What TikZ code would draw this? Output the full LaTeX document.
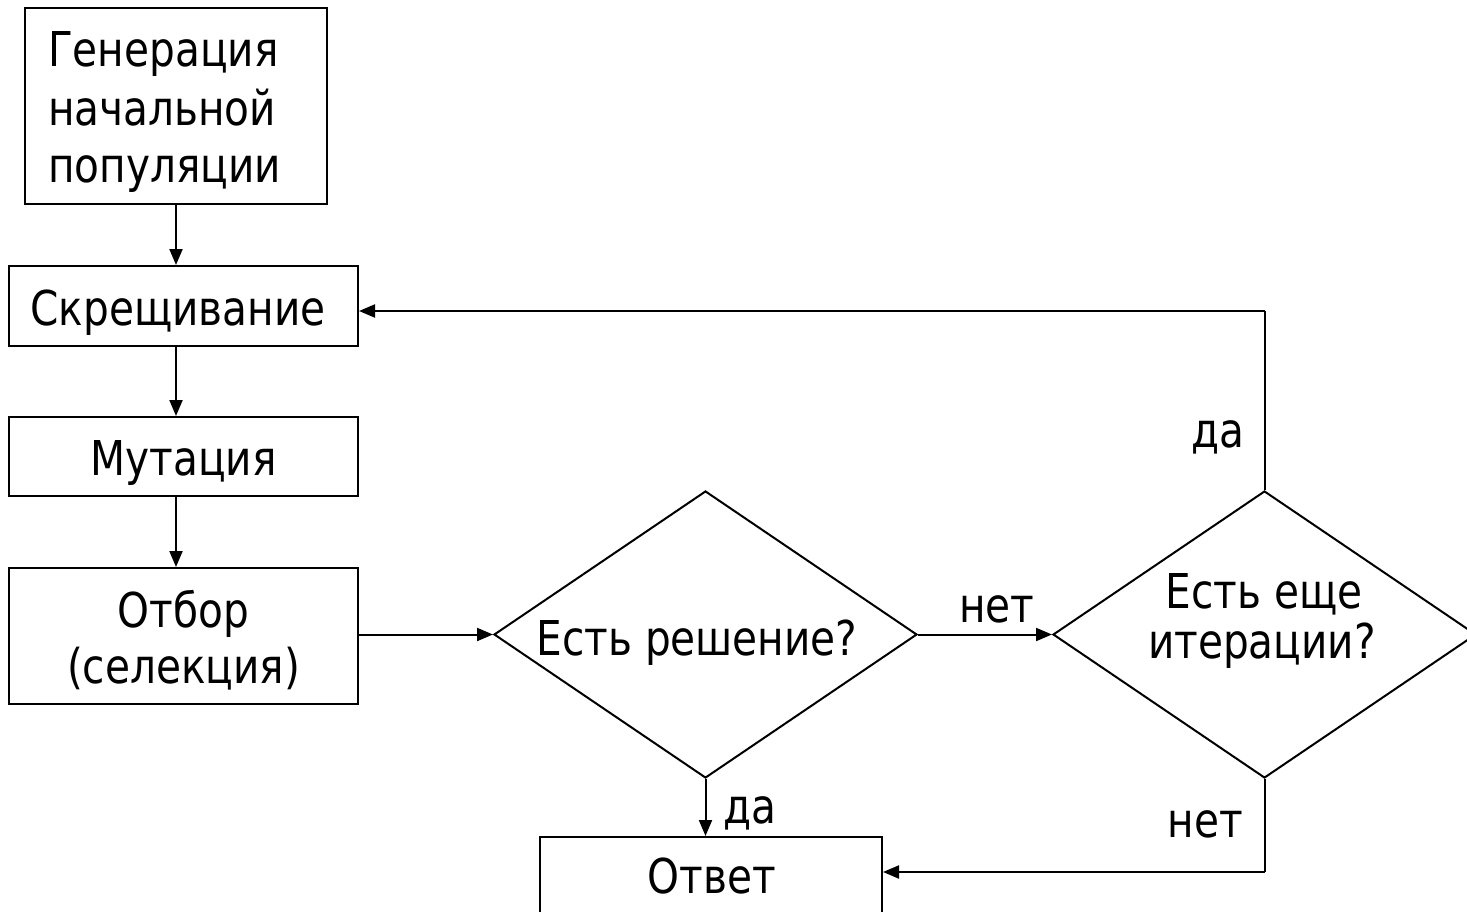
\documentclass[tikz,border=0pt]{standalone}
\usepackage{fontspec}
\setmainfont[FakeStretch=0.94]{DejaVu Sans Condensed}
\usetikzlibrary{shapes.geometric,arrows.meta}
\tikzset{
  shp/.style={draw, line width=2pt, inner sep=0pt},
  box/.style={shp, rectangle},
  dia/.style={shp, diamond, minimum width=423pt, minimum height=287pt},
  txt/.style={inner sep=0pt, anchor=base, font=\fontsize{48}{58}\selectfont},
  txtl/.style={txt, anchor=base west},
  conn/.style={line width=2pt, -{Triangle[length=16pt,width=13pt]}},
  plain/.style={line width=2pt}
}
\begin{document}
\begin{tikzpicture}[x=1pt,y=-1pt]
\useasboundingbox (0,0) rectangle (1467,912);
% shapes
\node[box, minimum width=302pt, minimum height=196pt] (gen) at (176,106) {};
\node[box, minimum width=349pt, minimum height=80pt] (cross) at (183.5,306) {};
\node[box, minimum width=349pt, minimum height=79pt] (mut) at (183.5,456.5) {};
\node[box, minimum width=349pt, minimum height=136pt] (sel) at (183.5,636) {};
\node[dia] (sol) at (705.5,634.5) {};
\node[dia] (iter) at (1264.5,634.5) {};
\node[box, minimum width=342pt, minimum height=78pt] (ans) at (711,876) {};
% texts
\node[txtl] (gen1) at (48,67) {Генерация};
\node[txtl] (gen2) at (48,126) {начальной};
\node[txtl] (gen3) at (48,183) {популяции};
\node[txt] (crosst) at (178,325) {Скрещивание};
\node[txt] (mutt) at (183.5,475) {Мутация};
\node[txt] (sel1) at (183.5,627) {Отбор};
\node[txt] (sel2) at (183.5,683) {(селекция)};
\node[txt] (solt) at (697,655) {Есть решение?};
\node[txt] (iter1) at (1264,608) {Есть еще};
\node[txt] (iter2) at (1262,658) {итерации?};
\node[txt] (anst) at (712,893) {Ответ};
% connectors
\coordinate (top) at (1264.5,311);
\coordinate (bot) at (1264.5,872);
\draw[conn] (gen.south) -- (gen.south |- cross.north);
\draw[conn] (gen.south |- cross.south) -- (gen.south |- mut.north);
\draw[conn] (gen.south |- mut.south) -- (gen.south |- sel.north);
\draw[conn] (sel.east |- sol.west) -- (sol.west);
\draw[conn] (sol.east) -- (iter.west);
\draw[conn] (sol.south) -- (sol.south |- ans.north);
\draw[plain] (iter.north) -- (top);
\draw[conn] (top) -- (cross.east |- top);
\draw[plain] (iter.south) -- (bot);
\draw[conn] (bot) -- (ans.east |- bot);
% connector labels
\node[txt] (no1) at (997,622) {нет};
\node[txt] (yes1) at (750,823) {да};
\node[txt] (yes2) at (1217.5,447) {да};
\node[txt] (no2) at (1205.5,837) {нет};
\end{tikzpicture}
\end{document}
